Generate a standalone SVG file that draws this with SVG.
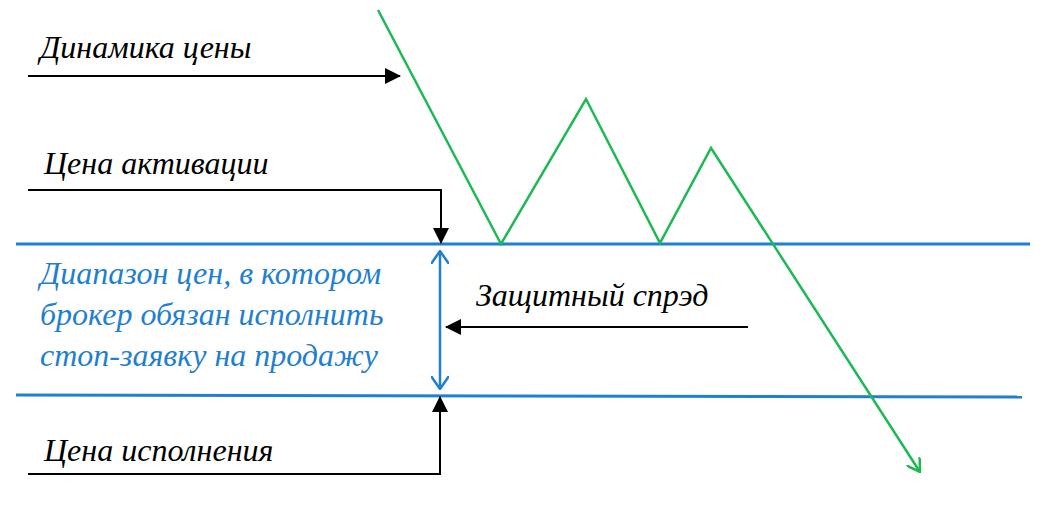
<svg xmlns="http://www.w3.org/2000/svg" width="1052" height="522" viewBox="0 0 1052 522">
<style>
.t{font-family:"Liberation Serif","Times New Roman","DejaVu Serif",serif;font-style:italic;font-size:32px;fill:#000}
.b{fill:#1f7fd0}
.k{stroke:#000;stroke-width:2;fill:none}
</style>
<defs>
<marker id="ak" markerWidth="16" markerHeight="16" refX="15" refY="8" orient="auto" markerUnits="userSpaceOnUse"><path d="M0,0 L16,8 L0,16 z" fill="#000"/></marker>
<marker id="ab" markerWidth="14" markerHeight="18" refX="13" refY="9" orient="auto-start-reverse" markerUnits="userSpaceOnUse"><path d="M0,0 L13,9 L0,18" fill="none" stroke="#1f7fd0" stroke-width="2.5"/></marker>
<marker id="ag" markerWidth="14" markerHeight="16" refX="13" refY="8" orient="auto" markerUnits="userSpaceOnUse"><path d="M0,0 L13,8 L0,16" fill="none" stroke="#1db954" stroke-width="2.5"/></marker>
</defs>
<g id="levels">
<line x1="16" y1="244" x2="1030" y2="244" stroke="#1f7fd0" stroke-width="3"/>
<line x1="16" y1="395" x2="1022" y2="397" stroke="#1f7fd0" stroke-width="3"/>
</g>
<g id="price">
<polyline points="378,10 501,244 586,99 660,243 711,148 920,472" fill="none" stroke="#1db954" stroke-width="2.5" marker-end="url(#ag)"/>
</g>
<g id="connectors">
<line class="k" x1="28" y1="76" x2="400" y2="76" marker-end="url(#ak)"/>
<polyline class="k" points="28,190 441,190 441,243" marker-end="url(#ak)"/>
<polyline class="k" points="28,474 440,474 440,397" marker-end="url(#ak)"/>
<line class="k" x1="748" y1="327" x2="446" y2="327" marker-end="url(#ak)"/>
<line x1="440" y1="251" x2="440" y2="389" stroke="#1f7fd0" stroke-width="2.5" marker-start="url(#ab)" marker-end="url(#ab)"/>
</g>
<g id="labels">
<text class="t" x="40" y="58">Динамика цены</text>
<text class="t" x="44" y="174">Цена активации</text>
<text class="t" x="44" y="461">Цена исполнения</text>
<text class="t" x="476" y="306">Защитный спрэд</text>
<text class="t b" x="40" y="284">Диапазон цен, в котором</text>
<text class="t b" x="40" y="325">брокер обязан исполнить</text>
<text class="t b" x="40" y="366">стоп-заявку на продажу</text>
</g>
</svg>
